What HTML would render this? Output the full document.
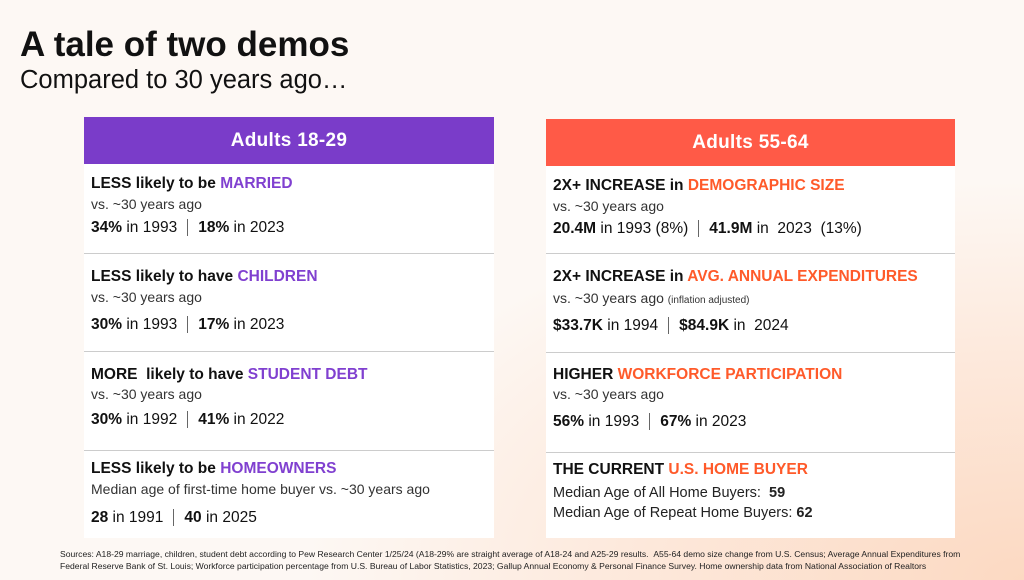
<!DOCTYPE html>
<html><head><style>
*{margin:0;padding:0;box-sizing:border-box}
body{width:1024px;height:580px;overflow:hidden;position:relative;font-family:"Liberation Sans",sans-serif;color:#111;
background:radial-gradient(ellipse 900px 500px at 1024px 580px,#fcd9c2 0%,#fde9dc 45%,#fdf8f4 80%);}
.a{position:absolute;white-space:nowrap}
h1{position:absolute;left:20px;top:25px;font-size:35px;font-weight:bold;letter-spacing:0px}
.sub{position:absolute;left:20px;top:66px;font-size:25.5px}
.card{position:absolute;background:#fff}
.hd{position:absolute;left:0;right:0;color:#fff;font-weight:bold;font-size:19px;text-align:center;line-height:47px;letter-spacing:0.3px}
.t{font-size:15.5px;font-weight:bold;left:7px}
.s{font-size:14px;color:#333;left:7px}
.n{font-size:15.5px;left:7px}
.n b{font-weight:bold}
.sep{display:inline-block;width:1px;height:17px;background:#666;vertical-align:middle;margin:0 10px}
.ln{position:absolute;left:0;right:0;height:1px;background:#ccc}
.p{color:#8040d0}.o{color:#ff5a2a}
.src{position:absolute;left:60px;top:548px;font-size:8.6px;color:#222;line-height:12px}
</style></head><body>
<h1>A tale of two demos</h1>
<div class="sub">Compared to 30 years ago…</div>

<div class="card" style="left:84px;top:117px;width:410px;height:421px">
<div class="hd" style="top:0;height:47px;background:#7a3cc9">Adults 18-29</div>
<div class="a t" style="top:58px">LESS likely to be <span class="p">MARRIED</span></div>
<div class="a s" style="top:79px">vs. ~30 years ago</div>
<div class="a n" style="top:102px"><b>34%</b> in 1993<span class="sep"></span><b>18%</b> in 2023</div>
<div class="ln" style="top:136px"></div>
<div class="a t" style="top:151px">LESS likely to have <span class="p">CHILDREN</span></div>
<div class="a s" style="top:172px">vs. ~30 years ago</div>
<div class="a n" style="top:199px"><b>30%</b> in 1993<span class="sep"></span><b>17%</b> in 2023</div>
<div class="ln" style="top:234px"></div>
<div class="a t" style="top:249px">MORE &nbsp;likely to have <span class="p">STUDENT DEBT</span></div>
<div class="a s" style="top:269px">vs. ~30 years ago</div>
<div class="a n" style="top:294px"><b>30%</b> in 1992<span class="sep"></span><b>41%</b> in 2022</div>
<div class="ln" style="top:333px"></div>
<div class="a t" style="top:343px">LESS likely to be <span class="p">HOMEOWNERS</span></div>
<div class="a s" style="top:364px">Median age of first-time home buyer vs. ~30 years ago</div>
<div class="a n" style="top:392px"><b>28</b> in 1991<span class="sep"></span><b>40</b> in 2025</div>
</div>

<div class="card" style="left:546px;top:119px;width:409px;height:419px">
<div class="hd" style="top:0;height:47px;background:#ff5a47">Adults 55-64</div>
<div class="a t" style="top:58px">2X+ INCREASE in <span class="o">DEMOGRAPHIC SIZE</span></div>
<div class="a s" style="top:79px">vs. ~30 years ago</div>
<div class="a n" style="top:101px"><b>20.4M</b> in 1993 (8%)<span class="sep"></span><b>41.9M</b> in &nbsp;2023 &nbsp;(13%)</div>
<div class="ln" style="top:134px"></div>
<div class="a t" style="top:149px">2X+ INCREASE in <span class="o">AVG. ANNUAL EXPENDITURES</span></div>
<div class="a s" style="top:171px">vs. ~30 years ago <span style="font-size:10px">(inflation adjusted)</span></div>
<div class="a n" style="top:198px"><b>$33.7K</b> in 1994<span class="sep"></span><b>$84.9K</b> in &nbsp;2024</div>
<div class="ln" style="top:233px"></div>
<div class="a t" style="top:247px">HIGHER <span class="o">WORKFORCE PARTICIPATION</span></div>
<div class="a s" style="top:267px">vs. ~30 years ago</div>
<div class="a n" style="top:294px"><b>56%</b> in 1993<span class="sep"></span><b>67%</b> in 2023</div>
<div class="ln" style="top:333px"></div>
<div class="a t" style="top:342px">THE CURRENT <span class="o">U.S. HOME BUYER</span></div>
<div class="a s" style="top:366px;font-size:14.5px;color:#222">Median Age of All Home Buyers: &nbsp;<b>59</b></div>
<div class="a s" style="top:386px;font-size:14.5px;color:#222">Median Age of Repeat Home Buyers: <b>62</b></div>
</div>

<div class="src">Sources: A18-29 marriage, children, student debt according to Pew Research Center 1/25/24 (A18-29% are straight average of A18-24 and A25-29 results. &nbsp;A55-64 demo size change from U.S. Census; Average Annual Expenditures from<br>Federal Reserve Bank of St. Louis; Workforce participation percentage from U.S. Bureau of Labor Statistics, 2023; Gallup Annual Economy &amp; Personal Finance Survey. Home ownership data from National Association of Realtors</div>
</body></html>
